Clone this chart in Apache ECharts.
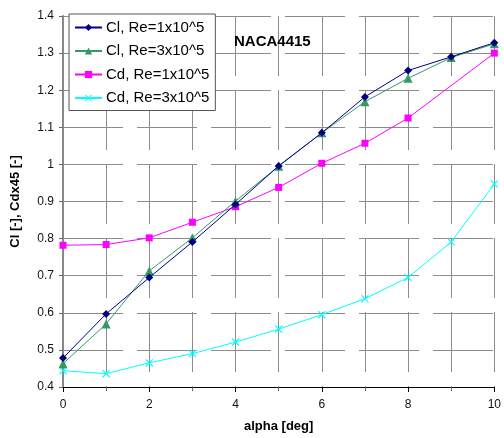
<!DOCTYPE html>
<html><head><meta charset="utf-8">
<script src="https://cdn.jsdelivr.net/npm/echarts@6/dist/echarts.min.js"></script>
<style>html,body{margin:0;padding:0;background:#fff}#c{width:504px;height:438px}</style>
</head><body><div id="c"></div>
<script>
const alpha = [0,1,2,3,4,5,6,7,8,9,10];
const clRe1 = [0.478,0.597,0.695,0.791,0.892,0.996,1.085,1.182,1.253,1.290,1.328];
const clRe3 = [0.463,0.570,0.713,0.802,0.901,0.995,1.085,1.169,1.232,1.288,1.325];
const cdRe1 = [0.782,0.784,0.802,0.844,0.886,0.938,1.003,1.057,1.125,null,1.300];
const cdRe3 = [0.444,0.436,0.465,0.490,0.521,0.556,0.595,0.638,0.695,0.791,0.947];
const seriesNames = ['Cl, Re=1x10^5','Cl, Re=3x10^5','Cd, Re=1x10^5','Cd, Re=3x10^5'];
const xTicks = [0,2,4,6,8,10];

const font = 'Liberation Sans, Arial, sans-serif';
const gridLine = {show:true, lineStyle:{color:'#8c8c8c', width:1, type:[60,14]}};
const xPath = 'path://M0,1L1,0L5,4L9,0L10,1L6,5L10,9L9,10L5,6L1,10L0,9L4,5Z';
function pairs(arr){ return alpha.map((a,i)=>[a, arr[i]]); }

const chart = echarts.init(document.getElementById('c'));
chart.setOption({
  animation:false,
  backgroundColor:'#fff',
  grid:{left:63, right:7, top:16, bottom:49, containLabel:false},
  title:{text:'NACA4415', left:234, top:34, padding:0, textStyle:{fontFamily:font, fontSize:15, fontWeight:'bold', color:'#000'}},
  legend:{
    orient:'vertical', left:69, top:14, padding:[6,6,5,5], itemGap:8.5,
    itemWidth:27, itemHeight:9,
    backgroundColor:'#fff', borderColor:'#555', borderWidth:1,
    textStyle:{fontFamily:font, fontSize:15, color:'#000', padding:[0,0,0,-1]},
    data:seriesNames
  },
  xAxis:{
    type:'value', min:0, max:10, interval:2,
    name:'alpha [deg]', nameLocation:'middle', nameGap:33,
    nameTextStyle:{fontFamily:font, fontSize:13, fontWeight:'bold', color:'#000'},
    axisLine:{show:true, onZero:false, lineStyle:{color:'#000', width:1}},
    axisTick:{show:true, length:5, inside:false, lineStyle:{color:'#000'}},
    minorTick:{show:true, splitNumber:2, length:4, lineStyle:{color:'#666'}},
    axisLabel:{fontFamily:font, fontSize:12, color:'#111', margin:12,
      formatter:v=> xTicks.includes(v) ? String(v) : ''},
    splitLine:gridLine,
    minorSplitLine:gridLine
  },
  yAxis:{
    type:'value', min:0.4, max:1.4, interval:0.1,
    name:'Cl [-], Cdx45 [-]', nameLocation:'middle', nameGap:41, nameRotate:90,
    nameTextStyle:{fontFamily:font, fontSize:13, fontWeight:'bold', color:'#000'},
    axisLine:{show:true, lineStyle:{color:'#888', width:2}},
    axisTick:{show:true, length:4, lineStyle:{color:'#666'}},
    axisLabel:{fontFamily:font, fontSize:12, color:'#111', margin:9,
      formatter:v=> String(Math.round(v*10)/10)},
    splitLine:gridLine
  },
  series:[
    {name:seriesNames[0], type:'line', data:pairs(clRe1), symbol:'diamond', symbolSize:8,
      lineStyle:{color:'#000080', width:1}, itemStyle:{color:'#000080'}, z:5},
    {name:seriesNames[1], type:'line', data:pairs(clRe3), symbol:'triangle', symbolSize:9,
      lineStyle:{color:'#339966', width:1}, itemStyle:{color:'#339966'}, z:4},
    {name:seriesNames[2], type:'line', data:pairs(cdRe1), symbol:'rect', symbolSize:7, connectNulls:true,
      lineStyle:{color:'#ff00ff', width:1}, itemStyle:{color:'#ff00ff'}, z:3},
    {name:seriesNames[3], type:'line', data:pairs(cdRe3), symbol:xPath, symbolSize:8,
      lineStyle:{color:'#00ffff', width:1}, itemStyle:{color:'#00ffff'}, z:3}
  ]
});
</script></body></html>
